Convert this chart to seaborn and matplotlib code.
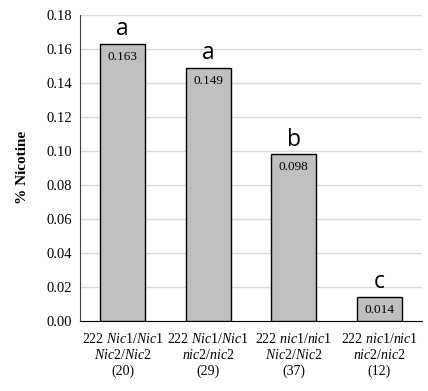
import matplotlib
matplotlib.use("Agg")
from matplotlib import pyplot as plt
import numpy as np
import seaborn as sns

# data
genotypes = [r"222 $\mathit{Nic1/Nic1}$" + "\n" + r"$\mathit{Nic2/Nic2}$",
             r"222 $\mathit{Nic1/Nic1}$" + "\n" + r"$\mathit{nic2/nic2}$",
             r"222 $\mathit{nic1/nic1}$" + "\n" + r"$\mathit{Nic2/Nic2}$",
             r"222 $\mathit{nic1/nic1}$" + "\n" + r"$\mathit{nic2/nic2}$"]
n_plants = [20, 29, 37, 12]
nicotine = [0.163, 0.149, 0.098, 0.014]
groups = ['a', 'a', 'b', 'c']

sns.set_style('white')
plt.rcParams['font.family'] = ['Liberation Serif', 'DejaVu Serif']
plt.rcParams['mathtext.fontset'] = 'custom'
plt.rcParams['mathtext.rm'] = 'Liberation Serif'
plt.rcParams['mathtext.it'] = 'Liberation Serif:italic'
plt.rcParams['text.color'] = 'black'
plt.rcParams['axes.labelcolor'] = 'black'
plt.rcParams['xtick.color'] = 'black'
plt.rcParams['ytick.color'] = 'black'

labels = [f"{g}\n({n})" for g, n in zip(genotypes, n_plants)]

fig = plt.figure(figsize=(4.28, 3.91), dpi=100)
ax = fig.add_axes([0.187, 0.179, 0.799, 0.783])

sns.barplot(x=labels, y=nicotine, color='#bfbfbf', saturation=1,
            edgecolor='black', linewidth=1, width=0.53, ax=ax, zorder=3)

ax.set_ylim(0, 0.18)
ax.set_yticks(np.arange(0, 0.181, 0.02))
ax.set_yticklabels([f"{t:.2f}" for t in np.arange(0, 0.181, 0.02)], fontsize=10.5)
ax.tick_params(axis='x', labelsize=10, length=0, pad=8)
ax.tick_params(axis='y', length=0, pad=6)
ax.grid(axis='y', color='#d9d9d9', linewidth=1, zorder=0)
ax.set_axisbelow(True)
for s in ['top', 'right']:
    ax.spines[s].set_visible(False)
ax.spines['left'].set_color('#404040')
ax.spines['bottom'].set_color('black')
ax.set_ylabel('% Nicotine', fontsize=11, fontweight='bold', labelpad=12)

for i, (v, g) in enumerate(zip(nicotine, groups)):
    ax.annotate(f"{v:.3f}", (i, v), xytext=(0, -5), textcoords='offset points',
                ha='center', va='top', fontsize=9.5, color='black')
    ax.annotate(g, (i, v), xytext=(0, 2), textcoords='offset points',
                ha='center', va='bottom', fontsize=16.5, family='Open Sans',
                color='black')

fig.savefig('out.png', dpi=100)
